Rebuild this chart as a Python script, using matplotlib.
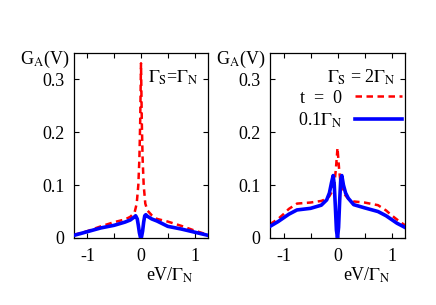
import matplotlib
matplotlib.use('Agg')
import matplotlib.pyplot as plt
from matplotlib.ticker import FixedLocator

plt.rcParams['font.family'] = ['Liberation Serif', 'DejaVu Serif']
plt.rcParams['mathtext.fontset'] = 'stix'
plt.rcParams['font.size'] = 13

# left panel: Gamma_S = Gamma_N
v_left_t0 = [-1.25, -1.0, -0.75, -0.5, -0.3, -0.2, -0.12, -0.08, -0.05, -0.03, -0.015, 0.0,
             0.015, 0.03, 0.05, 0.08, 0.12, 0.2, 0.3, 0.5, 0.75, 1.0, 1.25]
g_left_t0 = [0.006, 0.013, 0.022, 0.030, 0.035, 0.040, 0.048, 0.065, 0.10, 0.15, 0.22, 0.33,
             0.22, 0.15, 0.10, 0.065, 0.052, 0.043, 0.036, 0.031, 0.023, 0.014, 0.006]
v_left_t1 = [-1.25, -1.0, -0.75, -0.5, -0.3, -0.2, -0.12, -0.1, -0.07, -0.05, -0.03, -0.01, 0.0,
             0.01, 0.03, 0.05, 0.07, 0.09, 0.12, 0.2, 0.3, 0.5, 0.75, 1.0, 1.25]
g_left_t1 = [0.005, 0.012, 0.019, 0.024, 0.030, 0.034, 0.040, 0.042, 0.036, 0.024, 0.010, 0.001, 0.0,
             0.002, 0.013, 0.030, 0.042, 0.044, 0.041, 0.036, 0.032, 0.022, 0.017, 0.011, 0.005]

# right panel: Gamma_S = 2 Gamma_N
v_right_t0 = [-1.25, -1.1, -1.0, -0.9, -0.75, -0.5, -0.3, -0.2, -0.15, -0.1, -0.06, -0.03, 0.0,
              0.03, 0.06, 0.1, 0.15, 0.2, 0.3, 0.5, 0.75, 0.9, 1.0, 1.1, 1.25]
g_right_t0 = [0.026, 0.036, 0.045, 0.055, 0.065, 0.067, 0.070, 0.074, 0.079, 0.088, 0.10, 0.13, 0.17,
              0.13, 0.10, 0.088, 0.080, 0.074, 0.069, 0.067, 0.062, 0.052, 0.043, 0.035, 0.024]
v_right_t1 = [-1.25, -1.1, -1.0, -0.9, -0.75, -0.5, -0.3, -0.2, -0.15, -0.11, -0.08, -0.06, -0.04,
              -0.02, 0.0, 0.02, 0.04, 0.06, 0.08, 0.11, 0.15, 0.2, 0.3, 0.5, 0.75, 0.9, 1.0, 1.1, 1.25]
g_right_t1 = [0.022, 0.031, 0.038, 0.045, 0.053, 0.056, 0.062, 0.072, 0.085, 0.105, 0.118, 0.10, 0.06,
              0.015, 0.0, 0.02, 0.07, 0.11, 0.118, 0.10, 0.085, 0.075, 0.063, 0.057, 0.050, 0.042, 0.035, 0.028, 0.020]

labels = ['t  =  0', r'0.1$\Gamma_{\rm N}$']
titles = [r'$\Gamma_{\rm S}$=$\Gamma_{\rm N}$', r'$\Gamma_{\rm S}$ = 2$\Gamma_{\rm N}$']
yticks = [0, 0.1, 0.2, 0.3]
yticklabels = ['0', '0.1', '0.2', '0.3']
xticks = [-1, 0, 1]

fig = plt.figure(figsize=(4.36, 3.05), dpi=100)
ax1 = fig.add_axes([74/436, 1-238/305, 134/436, 185.3/305])
ax2 = fig.add_axes([270/436, 1-238/305, 135/436, 185.3/305])

panels = [(ax1, v_left_t0, g_left_t0, v_left_t1, g_left_t1),
          (ax2, v_right_t0, g_right_t0, v_right_t1, g_right_t1)]

for i, (ax, v0, g0, v1, g1) in enumerate(panels):
    ax.plot(v0, g0, color='#ff0000', lw=1.8, dashes=(2.6, 1.8), label=labels[0], zorder=2)
    ax.plot(v1, g1, color='#0000ff', lw=2.6, label=labels[1], zorder=3)
    ax.set_xlim(-1.25, 1.25)
    ax.set_ylim(0, 0.35)
    ax.set_yticks(yticks)
    ax.set_yticklabels(yticklabels)
    ax.set_xticks(xticks)
    ax.set_xticklabels(['-1', '0', '1'])
    ax.xaxis.set_minor_locator(FixedLocator([-0.5, 0.5]))
    ax.tick_params(which='both', direction='in', top=True, right=True, length=3.5, width=0.8)
    ax.tick_params(axis='x', pad=7)
    ax.tick_params(axis='y', pad=7)
    for s in ax.spines.values():
        s.set_linewidth(0.9)
    ax.text(-0.035, 0.963, r'G$_{\rm A}$(V)', transform=ax.transAxes, ha='right', va='center')
    ax.text(0.54, -0.2, r'eV/$\Gamma_{\rm N}$', transform=ax.transAxes, ha='left', va='center')
    ax.text(0.93, 0.865, titles[i], transform=ax.transAxes, ha='right', va='center')

ax2.legend(loc='upper right', bbox_to_anchor=(0.975, 0.80), frameon=False, markerfirst=False,
           handlelength=2.6, handletextpad=0.7, labelspacing=0.2, borderpad=0, borderaxespad=0)

plt.savefig('out.png', dpi=100)
